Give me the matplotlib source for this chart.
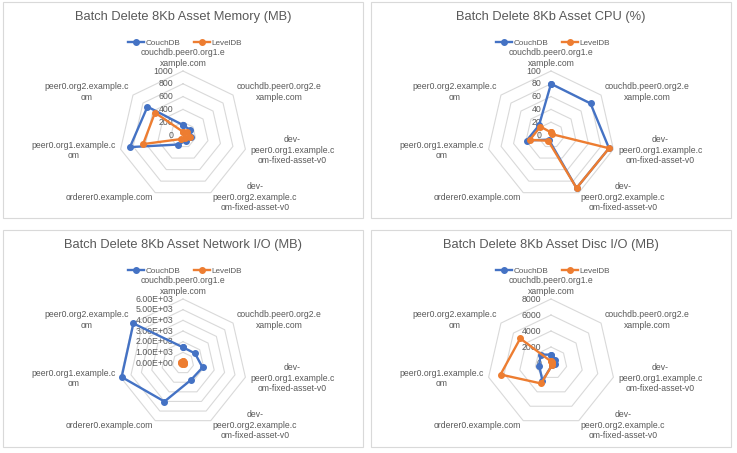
import numpy as np
import matplotlib
matplotlib.use('Agg')
import matplotlib.pyplot as plt
from matplotlib.lines import Line2D
from matplotlib.patches import Rectangle

plt.rcParams['font.family'] = ['Liberation Sans', 'DejaVu Sans']

# ---------------- data ----------------
categories = ['couchdb.peer0.org1.e\nxample.com',
              'couchdb.peer0.org2.e\nxample.com',
              'dev-\npeer0.org1.example.c\nom-fixed-asset-v0',
              'dev-\npeer0.org2.example.c\nom-fixed-asset-v0',
              'orderer0.example.com',
              'peer0.org1.example.c\nom',
              'peer0.org2.example.c\nom']
series_names = ['CouchDB', 'LevelDB']

titles = ['Batch Delete 8Kb Asset Memory (MB)',
          'Batch Delete 8Kb Asset CPU (%)',
          'Batch Delete 8Kb Asset Network I/O (MB)',
          'Batch Delete 8Kb Asset Disc I/O (MB)']

mem_couch = [155, 135, 130, 100, 165, 850, 710]
mem_level = [50, 80, 110, 60, 70, 640, 560]
mem_ticks = [0, 200, 400, 600, 800, 1000]
mem_tick_labels = ['0', '200', '400', '600', '800', '1000']

cpu_couch = [80, 79, 93, 92, 8, 39, 24]
cpu_level = [4, 2, 93, 92, 10, 34, 21]
cpu_ticks = [0, 20, 40, 60, 80, 100]
cpu_tick_labels = ['0', '20', '40', '60', '80', '100']

net_couch = [1470, 1440, 1880, 1750, 4010, 5900, 5950]
net_level = [180, 150, 120, 120, 150, 200, 200]
net_ticks = [0, 1000, 2000, 3000, 4000, 5000, 6000]
net_tick_labels = ['0.00E+00', '1.00E+03', '2.00E+03', '3.00E+03',
                   '4.00E+03', '5.00E+03', '6.00E+03']

disc_couch = [1050, 650, 550, 300, 2460, 1520, 1660]
disc_level = [200, 150, 150, 300, 2840, 6470, 4920]
disc_ticks = [0, 2000, 4000, 6000, 8000]
disc_tick_labels = ['0', '2000', '4000', '6000', '8000']

# ---------------- style / layout ----------------
W, H = 737, 453
BLUE = '#4472C4'
ORANGE = '#ED7D31'
GRID = '#D9D9D9'
TXT = '#595959'

fig = plt.figure(figsize=(W / 100, H / 100), dpi=100)


def fx(x):
    return x / W


def fy(y):
    return 1 - y / H


panels = [  # left, top, right, bottom (px)
    (3, 2, 363, 218),
    (371, 2, 731, 218),
    (3, 230, 363, 447),
    (371, 230, 731, 447),
]
datasets = [
    (mem_couch, mem_level, mem_ticks, mem_tick_labels),
    (cpu_couch, cpu_level, cpu_ticks, cpu_tick_labels),
    (net_couch, net_level, net_ticks, net_tick_labels),
    (disc_couch, disc_level, disc_ticks, disc_tick_labels),
]

R = 64  # radius in px
n = len(categories)
angles = np.arange(n) * 2 * np.pi / n
ang_c = np.append(angles, angles[0])

for (l, t, r, b), title, (cs, ls, ticks, tlabels) in zip(panels, titles, datasets):
    fig.add_artist(Rectangle((fx(l), fy(b)), fx(r - l), (b - t) / H,
                             transform=fig.transFigure, fill=False,
                             edgecolor=GRID, lw=0.8))
    cx = (l + r) / 2
    cy = t + 133
    fig.text(fx(cx), fy(t + 15), title, ha='center', va='center',
             fontsize=9.3, color=TXT)

    ax = fig.add_axes([fx(cx - R), fy(cy + R), 2 * R / W, 2 * R / H],
                      projection='polar')
    ax.set_theta_zero_location('N')
    ax.set_theta_direction(-1)
    ax.set_ylim(0, ticks[-1])
    ax.grid(False)
    ax.set_xticks([])
    ax.set_yticks([])
    ax.spines['polar'].set_visible(False)
    ax.patch.set_alpha(0)

    for tv in ticks[1:]:
        ax.plot(ang_c, [tv] * (n + 1), color=GRID, lw=0.8, zorder=1,
                clip_on=False)
    for tv, tl in zip(ticks, tlabels):
        ax.annotate(tl, xy=(0, tv), xytext=(-7, 0), textcoords='offset points',
                    ha='right', va='center', fontsize=6.3, color=TXT,
                    zorder=2, annotation_clip=False)

    for vals, col, name in ((cs, BLUE, series_names[0]), (ls, ORANGE, series_names[1])):
        v = list(vals) + [vals[0]]
        ax.plot(ang_c, v, color=col, lw=1.7, marker='o', markersize=4,
                zorder=5, clip_on=False, label=name)

    for ang, cat in zip(angles, categories):
        s, c = np.sin(ang), np.cos(ang)
        if abs(s) < 0.1:
            ha, va, pad = 'center', 'bottom', 2.5
        else:
            ha = 'left' if s > 0 else 'right'
            va = 'center'
            pad = 3.5
        ax.annotate(cat, xy=(ang, ticks[-1]), xytext=(pad * s, pad * c),
                    textcoords='offset points', ha=ha, va=va,
                    multialignment='center', fontsize=6.2, color=TXT,
                    annotation_clip=False, linespacing=1.2)

    handles = [Line2D([], [], color=BLUE, lw=1.7, marker='o', markersize=4),
               Line2D([], [], color=ORANGE, lw=1.7, marker='o', markersize=4)]
    fig.legend(handles, series_names, loc='center',
               bbox_to_anchor=(fx(cx + 2), fy(t + 41)), ncol=2, frameon=False,
               fontsize=5.9, handlelength=2.0, handletextpad=0.2,
               columnspacing=1.6, labelcolor=TXT, borderpad=0, borderaxespad=0)

fig.savefig('out.png', dpi=100)
